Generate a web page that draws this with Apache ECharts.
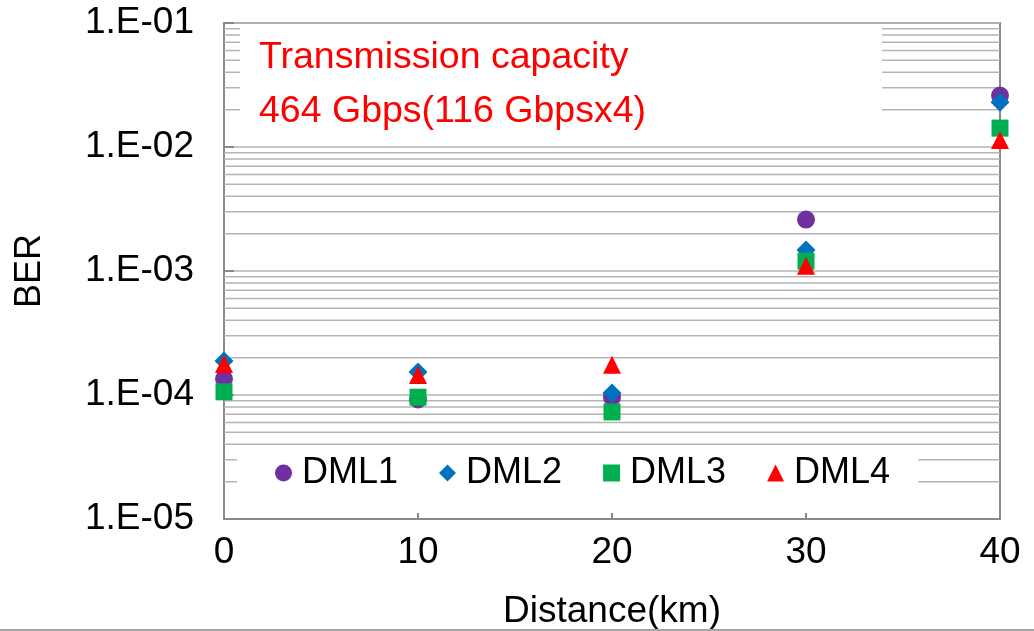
<!DOCTYPE html>
<html>
<head>
<meta charset="utf-8">
<script src="https://cdn.jsdelivr.net/npm/echarts@6/dist/echarts.min.js"></script>
<style>
  html, body { margin: 0; padding: 0; background: #fff; }
  #chart { width: 1034px; height: 631px; }
</style>
</head>
<body>
<div id="chart"></div>
<script>
const distances = [0, 10, 20, 30, 40];
const dml1 = [1.35e-4, 9.2e-5, 9.6e-5, 2.6e-3, 2.6e-2];
const dml2 = [1.88e-4, 1.53e-4, 1.04e-4, 1.48e-3, 2.3e-2];
const dml3 = [1.06e-4, 9.6e-5, 7.3e-5, 1.2e-3, 1.42e-2];
const dml4 = [1.78e-4, 1.45e-4, 1.75e-4, 1.1e-3, 1.14e-2];
const seriesNames = ['DML1', 'DML2', 'DML3', 'DML4'];
const decades = [-5, -4, -3, -2];
const annotation = ['Transmission capacity', '464 Gbps(116 Gbpsx4)'];

const font = '"Liberation Sans", Arial, sans-serif';
const axisGrey = '#898989';
const gridGrey = '#b5b5b5';

// minor gridlines at 2..9 x 10^n, drawn as one broken line series across the x range
const minorGrid = [];
decades.forEach(e => {
  for (let k = 2; k <= 9; k++) {
    const v = k * Math.pow(10, e);
    minorGrid.push([0, v], [40, v], [40, '-']);
  }
});

const pairs = arr => distances.map((d, i) => [d, arr[i]]);

const chart = echarts.init(document.getElementById('chart'));

const option = {
  backgroundColor: '#fff',
  animation: false,
  textStyle: { fontFamily: font },
  grid: {
    left: 224, right: 34, top: 23, bottom: 112,
    outerBoundsMode: 'none',
    show: true, borderColor: axisGrey, borderWidth: 2
  },
  legend: {
    data: seriesNames,
    left: 237, top: 445,
    padding: [10, 28, 22, 38],
    backgroundColor: '#fff',
    itemWidth: 17, itemHeight: 17,
    itemGap: 41,
    z: 10,
    textStyle: { fontSize: 36, color: '#000', fontFamily: font, padding: [0, 0, 0, 5] }
  },
  xAxis: {
    type: 'value', min: 0, max: 40, interval: 10,
    name: 'Distance(km)', nameLocation: 'middle', nameGap: 74,
    nameTextStyle: { fontSize: 37, color: '#000', fontFamily: font },
    axisLine: { lineStyle: { color: axisGrey, width: 2 } },
    axisTick: { inside: true, length: 9, lineStyle: { color: axisGrey, width: 2 } },
    axisLabel: { fontSize: 37, color: '#000', margin: 15, fontFamily: font },
    splitLine: { show: false }
  },
  yAxis: {
    type: 'log', logBase: 10, min: 1e-5, max: 1e-1,
    name: 'BER', nameLocation: 'middle', nameGap: 176,
    nameTextStyle: { fontSize: 36, color: '#000', fontFamily: font },
    axisLine: { lineStyle: { color: axisGrey, width: 2 } },
    axisTick: { inside: true, length: 10, lineStyle: { color: axisGrey, width: 2 } },
    axisLabel: {
      fontSize: 37, color: '#000', margin: 30, fontFamily: font,
      formatter: v => '1.E-0' + Math.round(-Math.log10(v))
    },
    splitLine: { show: true, lineStyle: { color: gridGrey, width: 1.5 } }
  },
  graphic: [
    {
      type: 'rect', z: 10,
      shape: { x: 240, y: 24, width: 642, height: 121 },
      style: { fill: '#fff' }
    },
    {
      type: 'text', z: 11, left: 259, top: 39,
      style: { text: annotation[0], fill: '#ff0000', font: '37.5px ' + font }
    },
    {
      type: 'text', z: 11, left: 259, top: 93,
      style: { text: annotation[1], fill: '#ff0000', font: '37.5px ' + font }
    },
    {
      type: 'rect', z: 10,
      shape: { x: 0, y: 629, width: 1034, height: 2 },
      style: { fill: '#a6a6a6' }
    }
  ],
  series: [
    {
      name: 'minor grid', type: 'line', z: 1, silent: true,
      showSymbol: false, symbol: 'none', connectNulls: false,
      lineStyle: { color: gridGrey, width: 1.5 },
      data: minorGrid
    },
    {
      name: 'DML1', type: 'scatter', symbol: 'circle', symbolSize: 18,
      itemStyle: { color: '#7030a0', opacity: 1 }, data: pairs(dml1)
    },
    {
      name: 'DML2', type: 'scatter', symbol: 'diamond', symbolSize: 19,
      itemStyle: { color: '#0070c0', opacity: 1 }, data: pairs(dml2)
    },
    {
      name: 'DML3', type: 'scatter', symbol: 'rect', symbolSize: 17,
      itemStyle: { color: '#00b050', opacity: 1 }, data: pairs(dml3)
    },
    {
      name: 'DML4', type: 'scatter', symbol: 'triangle', symbolSize: 18,
      itemStyle: { color: '#ff0000', opacity: 1 }, data: pairs(dml4)
    }
  ]
};

chart.setOption(option);
</script>
</body>
</html>
